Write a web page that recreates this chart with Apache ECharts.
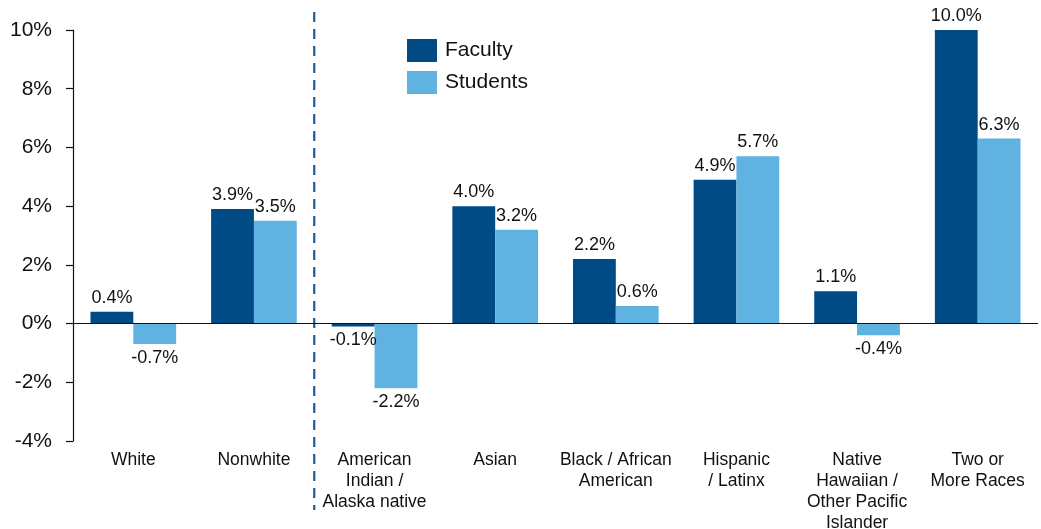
<!DOCTYPE html>
<html>
<head>
<meta charset="utf-8">
<script src="https://cdn.jsdelivr.net/npm/echarts@6/dist/echarts.min.js"></script>
<style>
  html, body { margin: 0; padding: 0; background: #fff; }
  #chart { width: 1041px; height: 529px; }
</style>
</head>
<body>
<div id="chart"></div>
<script>
// 类别与数据
const categories = [
  'White',
  'Nonwhite',
  'American\nIndian /\nAlaska native',
  'Asian',
  'Black / African\nAmerican',
  'Hispanic\n/ Latinx',
  'Native\nHawaiian /\nOther Pacific\nIslander',
  'Two or\nMore Races'
]
const faculty = [0.4, 3.9, -0.1, 4.0, 2.2, 4.9, 1.1, 10.0]
const students = [-0.7, 3.5, -2.2, 3.2, 0.6, 5.7, -0.4, 6.3]
const yTicks = [-4, -2, 0, 2, 4, 6, 8, 10]

const FONT = 'Liberation Sans, Arial, sans-serif'
const facultyColor = '#004a86'
const studentColor = '#60b2e1'

// 正值标签在上方，负值标签在下方
function toData (values) {
  return values.map((v) => {
    return {
      value: v,
      label: { position: v < 0 ? 'bottom' : 'top' }
    }
  })
}

const chart = echarts.init(document.getElementById('chart'))

const option = {
  animation: false,
  textStyle: { fontFamily: FONT },
  grid: {
    left: 73,
    right: 3,
    top: 30,
    bottom: 88,
    outerBoundsMode: 'none'
  },
  legend: {
    orient: 'vertical',
    left: 402,
    top: 34,
    itemWidth: 30,
    itemHeight: 23,
    itemGap: 9,
    icon: 'rect',
    textStyle: { fontSize: 21, color: '#111', fontFamily: FONT, padding: [0, 0, 0, 3] },
    data: ['Faculty', 'Students']
  },
  xAxis: {
    type: 'category',
    data: categories,
    axisLine: { show: false, onZero: false },
    axisTick: { show: false },
    axisLabel: {
      color: '#111',
      fontSize: 17.5,
      lineHeight: 21,
      margin: 9,
      interval: 0,
      fontFamily: FONT
    }
  },
  yAxis: {
    type: 'value',
    min: yTicks[0],
    max: yTicks[yTicks.length - 1],
    interval: 2,
    splitLine: { show: false },
    axisLine: { show: true, lineStyle: { color: '#111', width: 1.2 } },
    axisTick: { show: true, length: 7, lineStyle: { color: '#111', width: 1.2 } },
    axisLabel: {
      color: '#111',
      fontSize: 21,
      margin: 21,
      fontFamily: FONT,
      formatter: (v) => v + '%'
    }
  },
  series: [
    {
      name: 'Faculty',
      type: 'bar',
      data: toData(faculty),
      barGap: '0%',
      barCategoryGap: '29%',
      itemStyle: { color: facultyColor },
      label: {
        show: true,
        color: '#111',
        fontSize: 18,
        distance: 5,
        fontFamily: FONT,
        formatter: (p) => p.value.toFixed(1) + '%'
      },
      // 零线
      markLine: {
        silent: true,
        symbol: 'none',
        label: { show: false },
        lineStyle: { color: '#111', width: 1.2, type: 'solid' },
        data: [{ yAxis: 0 }]
      }
    },
    {
      name: 'Students',
      type: 'bar',
      data: toData(students),
      itemStyle: { color: studentColor },
      label: {
        show: true,
        color: '#111',
        fontSize: 18,
        distance: 5,
        fontFamily: FONT,
        formatter: (p) => p.value.toFixed(1) + '%'
      }
    }
  ]
}
chart.setOption(option)

// 分隔虚线：位于第 2 与第 3 类别之间
const p1 = chart.convertToPixel({ xAxisIndex: 0 }, categories[1])
const p2 = chart.convertToPixel({ xAxisIndex: 0 }, categories[2])
const sepX = (p1 + p2) / 2
chart.setOption({
  graphic: [
    {
      type: 'line',
      shape: { x1: sepX, y1: 12, x2: sepX, y2: 510 },
      style: { stroke: '#1f5d98', lineWidth: 2.2, lineDash: [10, 7] },
      silent: true
    }
  ]
})
</script>
</body>
</html>
